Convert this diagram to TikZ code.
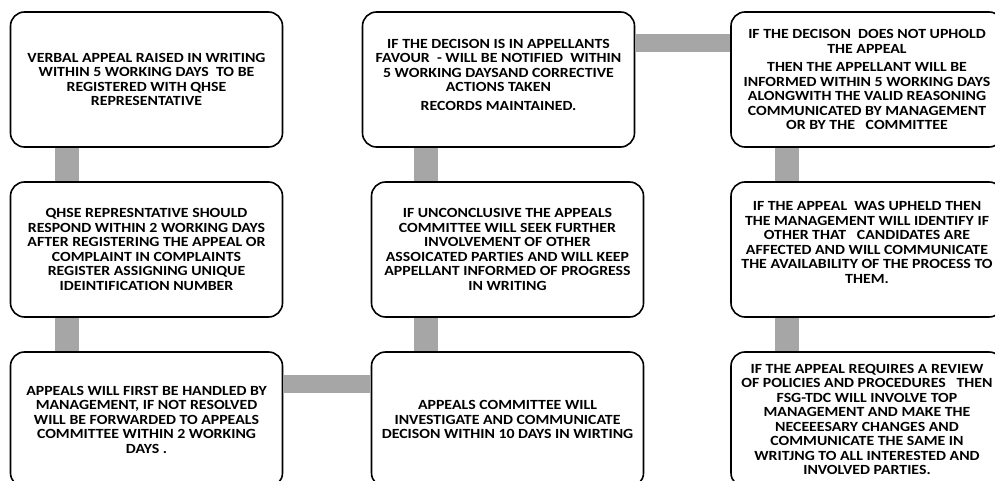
\documentclass[tikz,border=0pt]{standalone}
\usepackage{fontspec}
\setmainfont{Carlito}[FakeStretch=1.13]
\definecolor{linkgray}{HTML}{A6A6A6}

\begin{document}
\begin{tikzpicture}[x=1pt,y=-1pt,
  stepbox/.style={draw=black,line width=1.6pt,fill=white,rounded corners=14pt,
    minimum width=272pt,minimum height=135pt,inner sep=0pt,align=center,
    font=\fontsize{14}{14.5}\selectfont\bfseries},
  vlink/.style={linkgray,line width=24pt},
  hlink/.style={linkgray,line width=18pt}]

\useasboundingbox (0,0) rectangle (995,481);
\clip (0,0) rectangle (995,481);

% Left column
\node[stepbox] (verbal) at (146.5,79.5)
  {VERBAL APPEAL RAISED IN WRITING\\ WITHIN 5 WORKING DAYS\ \ TO BE\\ REGISTERED WITH QHSE\\ REPRESENTATIVE};
\node[stepbox] (respond) at (146.5,249.5)
  {QHSE REPRESNTATIVE SHOULD\\ RESPOND WITHIN 2 WORKING DAYS\\ AFTER REGISTERING THE APPEAL OR\\ COMPLAINT IN COMPLAINTS\\ REGISTER ASSIGNING UNIQUE\\ IDEINTIFICATION NUMBER};
\node[stepbox] (handle) at (146.5,419.5)
  {APPEALS WILL FIRST BE HANDLED BY\\ MANAGEMENT, IF NOT RESOLVED\\ WILL BE FORWARDED TO APPEALS\\ COMMITTEE WITHIN 2 WORKING\\ DAYS .};

% Middle column
\node[stepbox] (committee) at (507.5,419.5)
  {APPEALS COMMITTEE WILL\\ INVESTIGATE AND COMMUNICATE\\ DECISON WITHIN 10 DAYS IN WIRTING};
\node[stepbox] (unconclusive) at (507.5,249.5)
  {IF UNCONCLUSIVE THE APPEALS\\ COMMITTEE WILL SEEK FURTHER\\ INVOLVEMENT OF OTHER\\ ASSOICATED PARTIES AND WILL KEEP\\ APPELLANT INFORMED OF PROGRESS\\ IN WRITING};
\node[stepbox] (favour) at (498.5,79.5)
  {IF THE DECISON IS IN APPELLANTS\\ FAVOUR\ \ - WILL BE NOTIFIED\ \ WITHIN\\ 5 WORKING DAYSAND CORRECTIVE\\ ACTIONS TAKEN\\[4pt] RECORDS MAINTAINED.\\[-4.5pt]};

% Right column
\node[stepbox] (noupheld) at (867,79.5)
  {IF THE DECISON\ \ DOES NOT UPHOLD\\ THE APPEAL\\[4pt] THEN THE APPELLANT WILL BE\\ INFORMED WITHIN 5 WORKING DAYS\\ ALONGWITH THE VALID REASONING\\ COMMUNICATED BY MANAGEMENT\\ OR BY THE\ \ \ COMMITTEE};
\node[stepbox] (upheld) at (867,249.5)
  {IF THE APPEAL\ \ WAS UPHELD THEN\\ THE MANAGEMENT WILL IDENTIFY IF\\ OTHER THAT\ \ \ CANDIDATES ARE\\ AFFECTED AND WILL COMMUNICATE\\ THE AVAILABILITY OF THE PROCESS TO\\ THEM.\\};
\node[stepbox] (review) at (867,419.5)
  {IF THE APPEAL REQUIRES A REVIEW\\ OF POLICIES AND PROCEDURES\ \ \ THEN\\ FSG-TDC WILL INVOLVE TOP\\ MANAGEMENT AND MAKE THE\\ NECEEESARY CHANGES AND\\ COMMUNICATE THE SAME IN\\ WRITJNG TO ALL INTERESTED AND\\ INVOLVED PARTIES.};

% Connectors
\draw[vlink] ([xshift=-80pt]verbal.south) -- ([xshift=-80pt]respond.north);
\draw[vlink] ([xshift=-80pt]respond.south) -- ([xshift=-80pt]handle.north);
\draw[hlink] ([yshift=-32.5pt]handle.north east) -- ([yshift=-32.5pt]committee.north west);
\draw[vlink] ([xshift=-82pt]committee.north) -- ([xshift=-82pt]unconclusive.south);
\draw[vlink] ([xshift=-82pt]unconclusive.north) -- ([xshift=-82pt]unconclusive.north |- favour.south);
\draw[hlink] ([yshift=-32pt]favour.north east) -- ([yshift=-32pt]noupheld.north west);
\draw[vlink] ([xshift=-80pt]noupheld.south) -- ([xshift=-80pt]upheld.north);
\draw[vlink] ([xshift=-80pt]upheld.south) -- ([xshift=-80pt]review.north);

\end{tikzpicture}
\end{document}
